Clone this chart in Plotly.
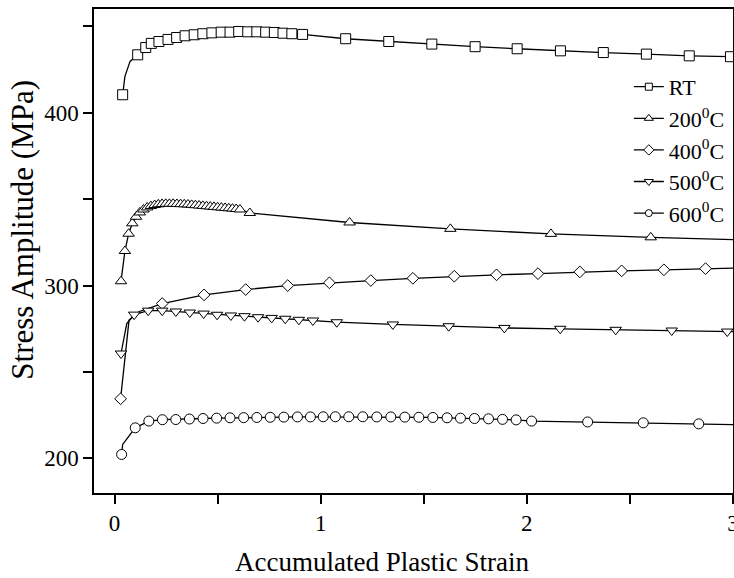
import plotly.graph_objects as go

# ---- data: accumulated plastic strain vs. stress amplitude (MPa) ----
rt_strain = [0.039, 0.112, 0.151, 0.178, 0.215, 0.259, 0.301, 0.342, 0.386, 0.428,
             0.472, 0.517, 0.560, 0.602, 0.646, 0.690, 0.733, 0.775, 0.817, 0.860,
             0.912, 1.121, 1.330, 1.539, 1.749, 1.953, 2.163, 2.371, 2.580, 2.788, 2.988]
rt_stress = [410.4, 433.5, 437.7, 440.1, 441.2, 442.4, 443.5, 444.5, 445.1, 445.7,
             446.2, 446.6, 446.6, 447.0, 446.8, 446.8, 446.6, 446.4, 446.0, 445.7,
             445.3, 442.8, 441.2, 439.7, 438.2, 437.0, 435.8, 434.8, 433.9, 432.9, 432.4]
rt_bend_strain = [0.050, 0.075]
rt_bend_stress = [421.0, 429.7]

t200_strain = [0.031, 0.050, 0.068, 0.086, 0.104, 0.122, 0.140, 0.158, 0.176, 0.194,
               0.212, 0.230, 0.248, 0.266, 0.284, 0.302, 0.320, 0.338, 0.356, 0.374,
               0.392, 0.410, 0.428, 0.446, 0.464, 0.482, 0.500, 0.518, 0.536, 0.554,
               0.572, 0.590, 0.608, 0.656, 1.140, 1.629, 2.117, 2.601, 3.085]
t200_stress = [302.5, 320.0, 330.0, 336.0, 339.8, 342.3, 344.0, 345.2, 346.0, 346.6,
               347.0, 347.2, 347.3, 347.3, 347.3, 347.2, 347.1, 347.0, 346.9, 346.7,
               346.5, 346.3, 346.1, 345.9, 345.7, 345.5, 345.3, 345.1, 344.9, 344.7,
               344.5, 344.3, 344.0, 342.0, 336.5, 332.8, 329.9, 327.9, 326.3]
t200_bend_strain = []
t200_bend_stress = []

t400_strain = [0.029, 0.231, 0.434, 0.636, 0.840, 1.042, 1.243, 1.447, 1.648, 1.853,
               2.054, 2.257, 2.460, 2.665, 2.867, 3.070]
t400_stress = [234.5, 289.6, 294.6, 297.7, 300.0, 301.6, 302.9, 304.2, 305.4, 306.2,
               306.9, 307.9, 308.5, 309.1, 309.8, 310.3]
t400_bend_strain = [0.070, 0.120]
t400_bend_stress = [280.0, 285.0]

t500_strain = [0.031, 0.095, 0.163, 0.231, 0.297, 0.365, 0.432, 0.497, 0.564, 0.630,
               0.696, 0.762, 0.828, 0.894, 0.962, 1.078, 1.350, 1.621, 1.891, 2.162,
               2.431, 2.703, 2.972, 3.243]
t500_stress = [260.7, 283.2, 285.5, 285.5, 285.0, 284.4, 283.8, 283.1, 282.7, 282.3,
               281.7, 281.3, 280.8, 280.2, 279.8, 278.8, 277.5, 276.5, 275.5, 275.0,
               274.4, 274.0, 273.4, 272.9]
t500_bend_strain = [0.059]
t500_bend_stress = [278.0]

t600_strain = [0.034, 0.100, 0.166, 0.232, 0.297, 0.363, 0.429, 0.495, 0.560, 0.626,
               0.690, 0.755, 0.821, 0.887, 0.950, 1.012, 1.071, 1.136, 1.204, 1.272,
               1.340, 1.408, 1.476, 1.544, 1.613, 1.678, 1.746, 1.814, 1.882, 1.948,
               2.023, 2.295, 2.565, 2.834, 3.104]
t600_stress = [202.3, 217.7, 221.6, 222.4, 222.5, 222.8, 223.1, 223.3, 223.5, 223.6,
               223.7, 223.8, 223.9, 224.0, 224.0, 224.1, 224.1, 224.1, 224.1, 224.0,
               224.0, 223.9, 223.8, 223.7, 223.5, 223.3, 223.1, 222.9, 222.6, 222.3,
               221.6, 221.1, 220.6, 220.0, 219.3]
t600_bend_strain = [0.039]
t600_bend_stress = [208.1]

series_names = ["RT", "200<sup>0</sup>C", "400<sup>0</sup>C", "500<sup>0</sup>C", "600<sup>0</sup>C"]

x_ticks = [0, 1, 2, 3]
y_ticks = [200, 300, 400]

SERIF = "Liberation Serif, Times New Roman, serif"

series = [
    (rt_strain, rt_stress, rt_bend_strain, rt_bend_stress, "square", 10, 7),
    (t200_strain, t200_stress, t200_bend_strain, t200_bend_stress, "triangle-up", 10, 8),
    (t400_strain, t400_stress, t400_bend_strain, t400_bend_stress, "diamond", 9, 8),
    (t500_strain, t500_stress, t500_bend_strain, t500_bend_stress, "triangle-down", 10, 8),
    (t600_strain, t600_stress, t600_bend_strain, t600_bend_stress, "circle", 10, 7),
]

fig = go.Figure()

for name, (xs, ys, bx, by, sym, msize, lsize) in zip(series_names, series):
    # connecting line through markers and unmarked bend points
    pts = sorted(zip(list(xs) + list(bx), list(ys) + list(by)))
    fig.add_trace(go.Scatter(
        x=[p[0] for p in pts], y=[p[1] for p in pts], mode="lines",
        line=dict(color="black", width=1.3), showlegend=False, hoverinfo="skip",
    ))
    # white-filled markers on top of the line
    fig.add_trace(go.Scatter(
        x=xs, y=ys, mode="markers", showlegend=False,
        marker=dict(symbol=sym, size=msize, color="white",
                    line=dict(color="black", width=1)),
    ))
    # legend entry
    fig.add_trace(go.Scatter(
        x=[None], y=[None], mode="lines+markers", name=name,
        line=dict(color="black", width=1.3),
        marker=dict(symbol=sym, size=lsize, color="white",
                    line=dict(color="black", width=1)),
    ))

axis_common = dict(
    showline=True, linecolor="black", linewidth=1.5, mirror=True,
    ticks="outside", ticklen=9, tickwidth=1.5, tickcolor="black",
    showgrid=False, zeroline=False, ticklabeloverflow="allow", automargin=False,
    tickfont=dict(family=SERIF, size=23, color="black"),
)

fig.update_xaxes(range=[-0.1, 3.0002], tickvals=x_ticks, ticktext=[str(v) for v in x_ticks],
                 minor=dict(tickvals=[0.5, 1.5, 2.5], ticks="outside", ticklen=9,
                            tickwidth=1.5, tickcolor="black"),
                 **axis_common)
fig.update_yaxes(range=[180, 460], tickvals=y_ticks, ticktext=[str(v) for v in y_ticks],
                 minor=dict(tickvals=[250, 350, 450], ticks="outside", ticklen=9,
                            tickwidth=1.5, tickcolor="black"),
                 **axis_common)

fig.add_annotation(text="Accumulated Plastic Strain", xref="paper", yref="paper",
                   x=0.45, y=-0.142, xanchor="center", yanchor="middle", showarrow=False,
                   font=dict(family=SERIF, size=27, color="black"))
fig.add_annotation(text="Stress Amplitude (MPa)", xref="paper", yref="paper",
                   x=-0.112, y=0.545, xanchor="center", yanchor="middle", showarrow=False,
                   textangle=-90, font=dict(family=SERIF, size=31, color="black"))

fig.update_layout(
    width=734, height=578,
    margin=dict(l=94, r=1, t=9, b=85, autoexpand=False),
    paper_bgcolor="white", plot_bgcolor="white",
    showlegend=True,
    legend=dict(x=0.837, y=0.8824, xanchor="left", yanchor="top",
                bgcolor="rgba(0,0,0,0)", borderwidth=0,
                font=dict(family=SERIF, size=22, color="black"),
                itemwidth=30, tracegroupgap=0),
)

fig.write_html("out.html")
